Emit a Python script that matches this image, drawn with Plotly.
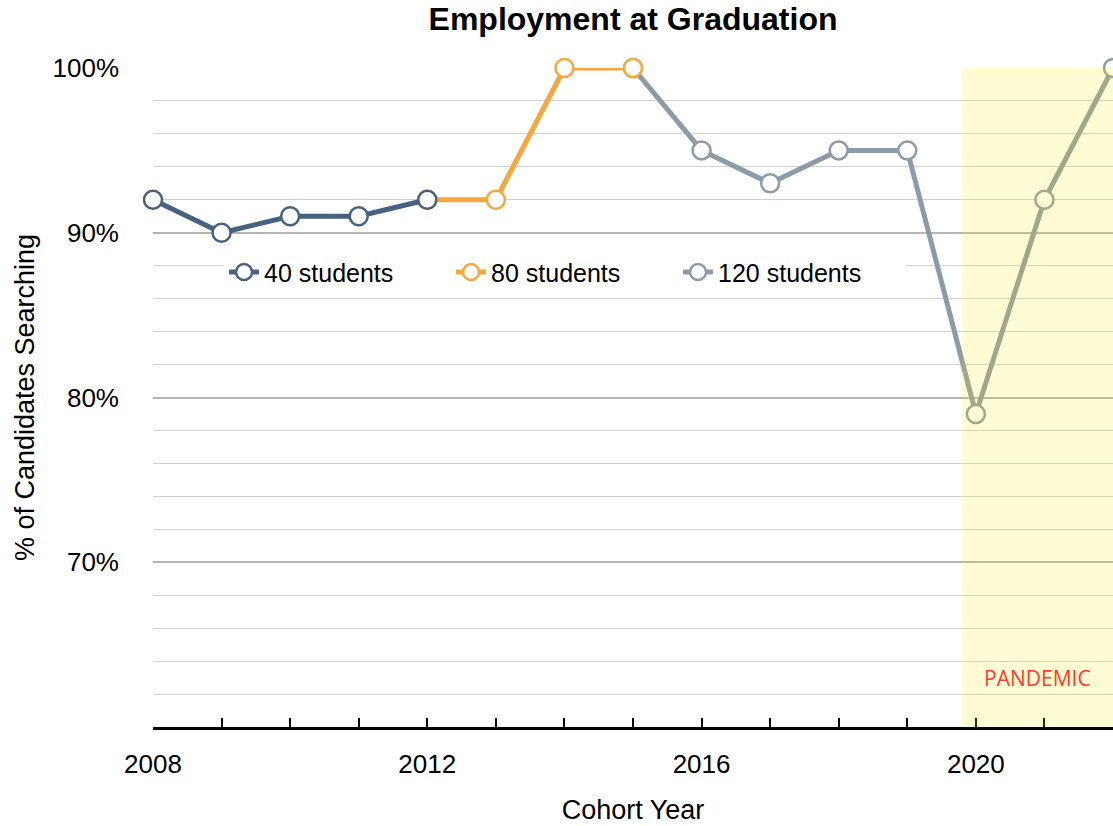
import plotly.graph_objects as go

years = list(range(2008, 2023))
rates = [92, 90, 91, 91, 92, 92, 100, 100, 95, 93, 95, 95, 79, 92, 100]
class_size = [40, 40, 40, 40, 40, 80, 80, 80, 120, 120, 120, 120, 120, 120, 120]

groups = [40, 80, 120]
group_names = ["40 students", "80 students", "120 students"]
group_colors = ["#46627f", "#f8a73d", "#8b9ca8"]

pandemic_start = 2019.8
label_years = [2008, 2012, 2016, 2020]
pct_ticks = [70, 80, 90, 100]

fig = go.Figure()

# draw later cohorts first so the earlier marker sits on top of the joining line
for rank in reversed(range(len(groups))):
    idx = [i for i, s in enumerate(class_size) if s == groups[rank]]
    if idx[0] > 0:
        idx = [idx[0] - 1] + idx
    fig.add_trace(go.Scatter(
        x=[years[i] for i in idx],
        y=[rates[i] for i in idx],
        mode="lines+markers",
        name=group_names[rank],
        legendrank=rank + 1,
        line=dict(color=group_colors[rank], width=5),
        marker=dict(size=18, color="white", line=dict(color=group_colors[rank], width=2.5)),
        cliponaxis=False,
    ))

fig.add_shape(
    type="rect", xref="x", yref="y",
    x0=pandemic_start, x1=2023, y0=60, y1=100,
    fillcolor="rgba(255,238,0,0.17)", line=dict(width=0), layer="above",
)
fig.add_annotation(
    x=2020.9, y=63, xref="x", yref="y", text="PANDEMIC", showarrow=False,
    font=dict(family="Open Sans", size=21, color="#ff3b30"),
)

font = "Liberation Sans, Arial, Helvetica, sans-serif"
fig.update_layout(
    width=1113, height=826,
    margin=dict(l=153, r=0, t=68, b=99),
    paper_bgcolor="white", plot_bgcolor="white",
    font=dict(family=font, size=26, color="black"),
    title=dict(
        text="<b>Employment at Graduation</b>",
        x=0.5, xref="paper", xanchor="center",
        y=1 - 19 / 826, yref="container", yanchor="middle",
        font=dict(size=32),
    ),
    xaxis=dict(
        range=[2008, 2022],
        tickvals=label_years,
        ticks="inside", ticklen=9, tickwidth=2, tickcolor="black",
        minor=dict(dtick=1, tick0=2008, ticks="inside", ticklen=9, tickwidth=2, tickcolor="black"),
        showline=True, linecolor="black", linewidth=3,
        showgrid=False, zeroline=False,
        ticklabelstandoff=12,
        title=dict(text="Cohort Year", standoff=22, font=dict(size=27)),
    ),
    yaxis=dict(
        range=[60, 100],
        tickvals=pct_ticks, ticktext=[f"{v}%" for v in pct_ticks],
        showgrid=True, gridcolor="#b5b5b5", gridwidth=1.5,
        minor=dict(tick0=60, dtick=2, showgrid=True, gridcolor="#d2d2d2", gridwidth=1),
        showline=False, zeroline=False,
        ticklabelstandoff=33,
        title=dict(text="% of Candidates Searching", standoff=10, font=dict(size=27)),
    ),
    legend=dict(
        orientation="h",
        x=0.074, y=0.69, xanchor="left", yanchor="middle",
        bgcolor="white",
        entrywidth=182,
        font=dict(size=25),
    ),
)

fig.write_html(
    "out.html",
    config={"displayModeBar": False},
    post_script="document.body.style.margin='0';document.body.style.overflow='hidden';",
)
